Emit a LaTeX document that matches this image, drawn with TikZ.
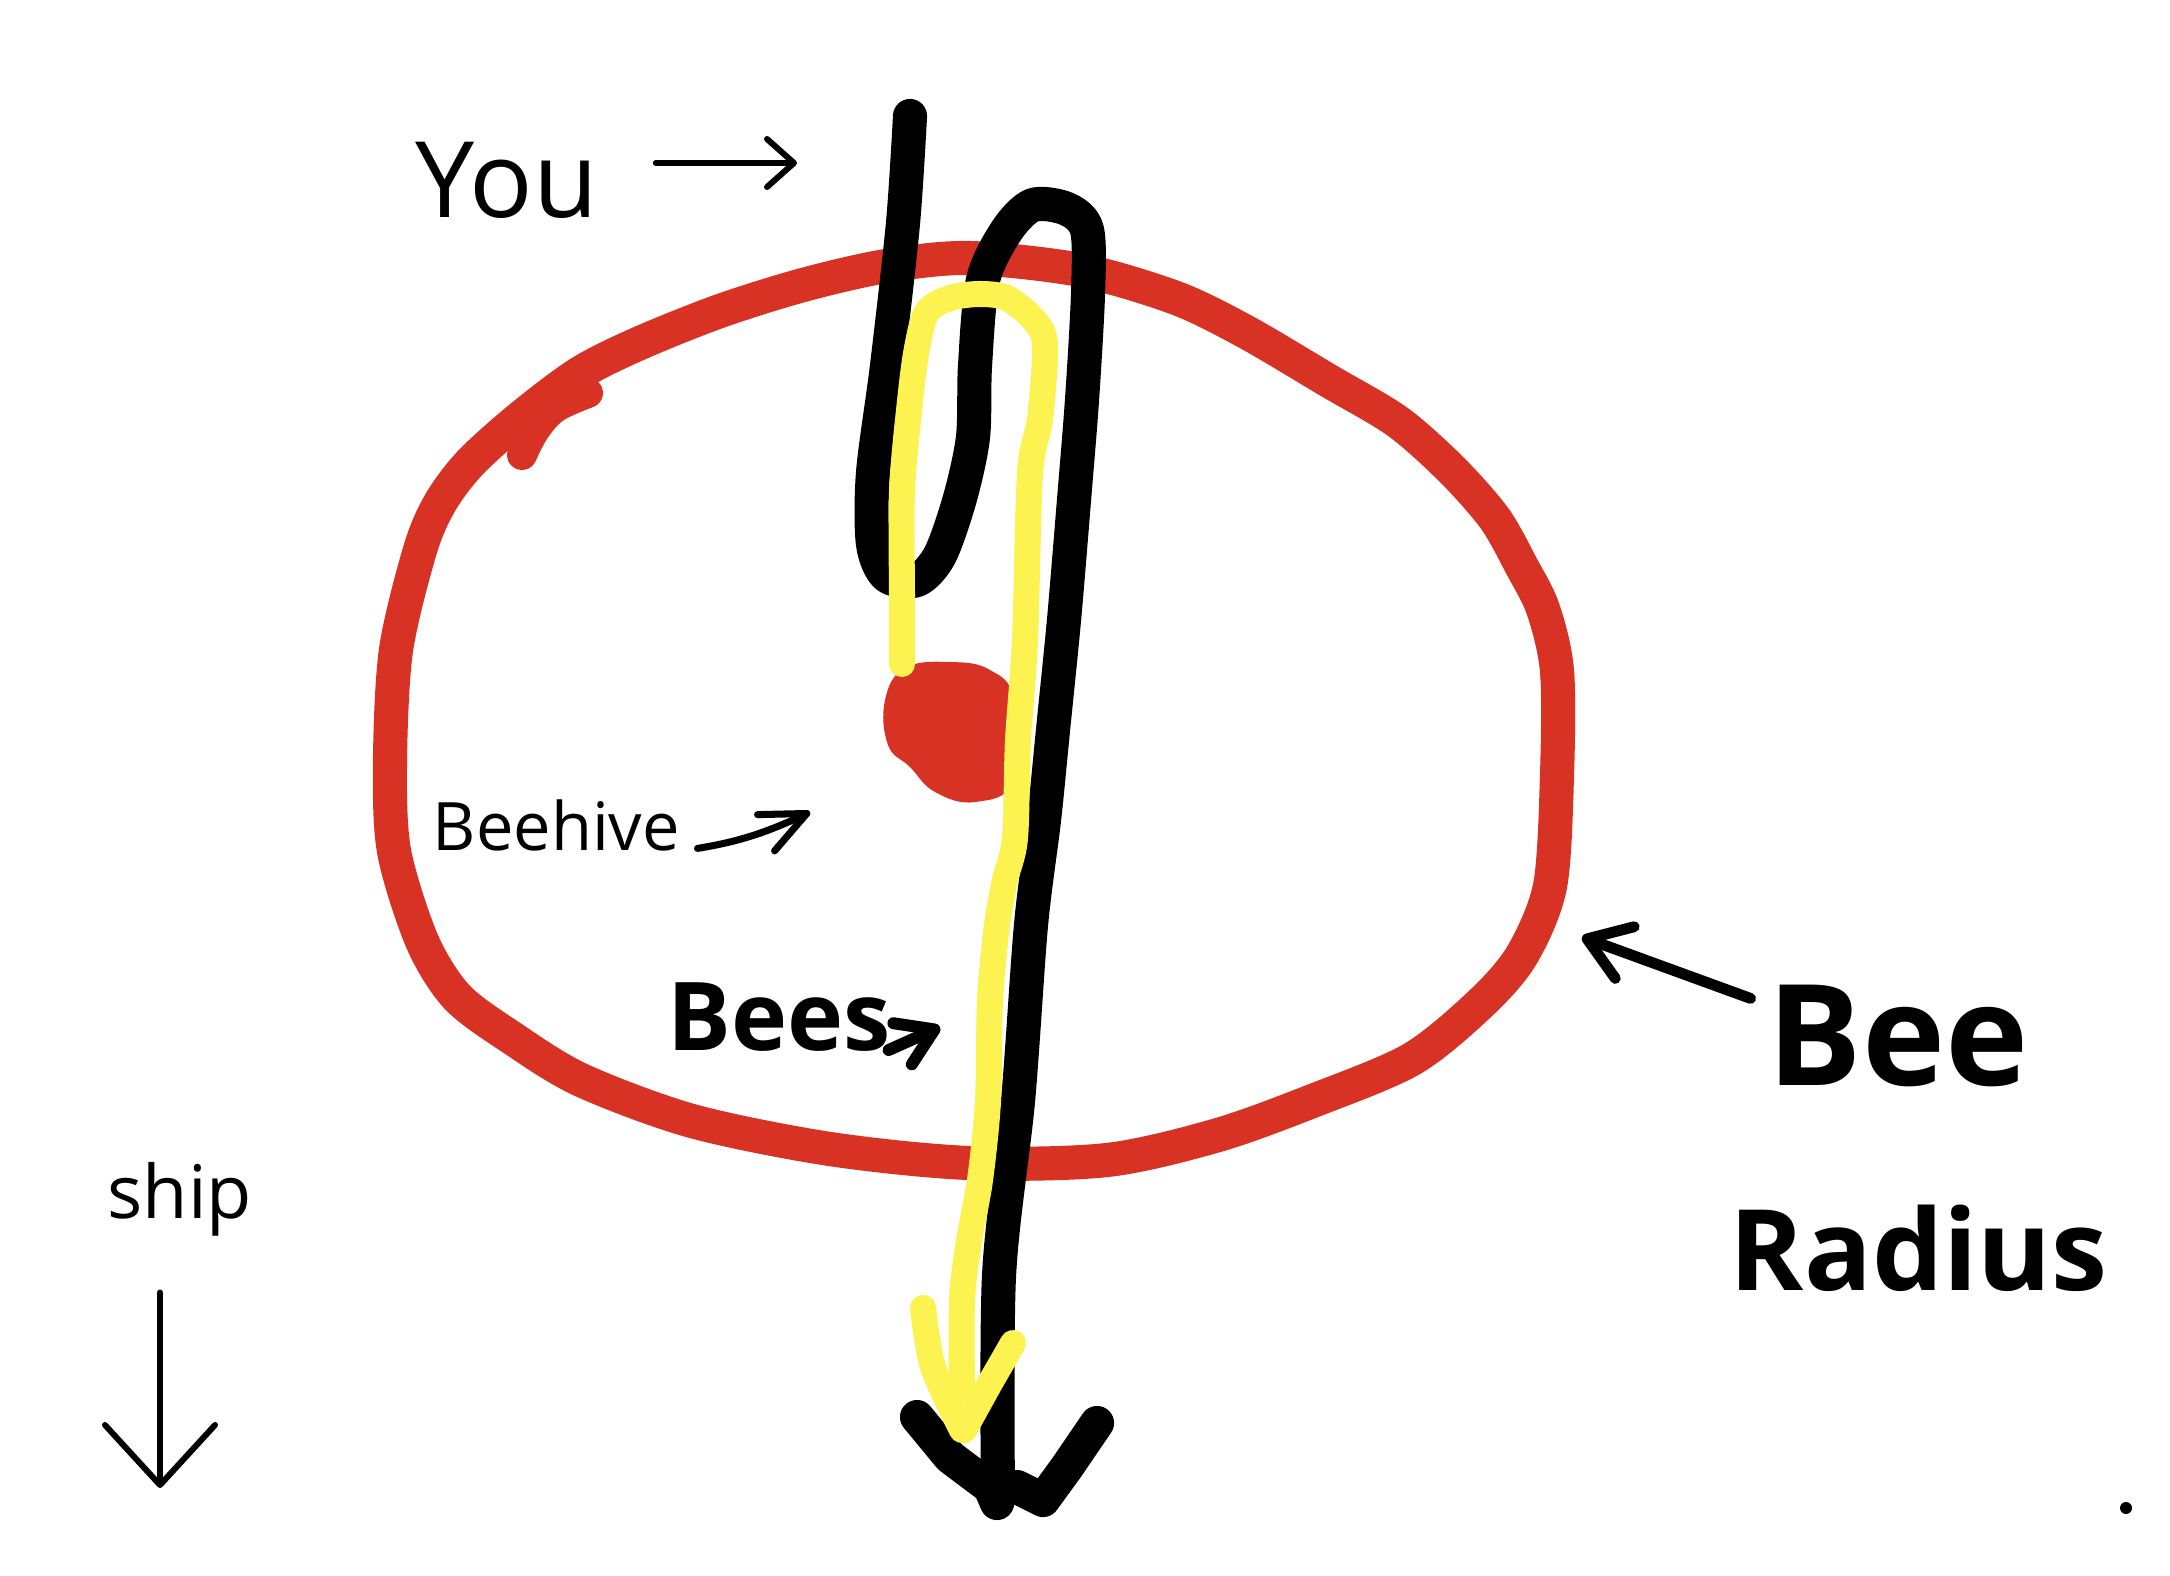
\documentclass[tikz,border=0pt]{standalone}
\usepackage{fontspec}
\setmainfont{Open Sans}
\usetikzlibrary{arrows.meta}
\definecolor{ringred}{RGB}{215,50,36}
\definecolor{penyellow}{RGB}{252,242,80}

\begin{document}
\begin{tikzpicture}[x=0.01cm,y=-0.01cm,
    ringpen/.style={draw=ringred,line width=9.7pt,line cap=round,line join=round},
    blackpen/.style={draw=black,line width=9.7pt,line cap=round,line join=round},
    yellowpen/.style={draw=penyellow,line width=7.4pt,line cap=round,line join=round},
    notetext/.style={anchor=base west,inner sep=2pt},
    notearrow/.style n args={2}{line cap=round,line join=round,
        -{Straight Barb[round,length=#1,width=#2]}},
  ]
    % page
    \fill[white] (0,0) rectangle (2170,1576);
    \useasboundingbox (0,0) rectangle (2170,1576);

    % bee radius ring
    \draw[ringpen] plot[smooth cycle,tension=0.5] coordinates {
        (580,373) (640,343) (720,311) (803,285) (886,266)
        (969,258) (1080,270) (1176,298) (1246,332) (1329,381) (1398,422)
        (1453,471) (1495,519) (1522,567) (1543,609) (1557,671) (1557,775)
        (1550,886) (1522,955) (1481,1003) (1412,1059) (1315,1100) (1218,1135)
        (1107,1160) (969,1163) (830,1149) (692,1121) (581,1080) (512,1038)
        (457,997) (422,941) (394,851) (390,761) (396,650) (420,550)
        (440,503) (470,463) (520,418)};
    % kink on the ring
    \draw[ringpen,line width=8.5pt] plot[smooth,tension=0.6]
        coordinates {(588,393) (555,408) (535,430) (522,455)};

    % beehive
    \fill[ringred] plot[smooth cycle,tension=0.7] coordinates {
        (885,700) (905,668) (950,662) (990,670) (1014,700) (1014,780)
        (975,802) (935,792) (910,767) (888,745)};

    % your path
    \draw[blackpen] plot[smooth,tension=0.5] coordinates {
        (910,116) (903,223) (887,366) (873,473) (873,544) (887,576)
        (917,580) (940,555) (960,498) (973,437) (975,366) (983,280)
        (1007,230) (1033,205) (1067,209) (1087,230) (1088,294) (1082,400)
        (1074,500) (1064,620) (1053,730) (1044,820) (1031,925) (1018,1101)
        (999,1276) (998,1500)};
    \draw[blackpen] (917,1417) -- (950,1457) -- (990,1487) -- (997,1503);
    \draw[blackpen] (1097,1423) -- (1067,1467) -- (1043,1500) -- (1017,1487);

    % path of the bees
    \draw[yellowpen] plot[smooth,tension=0.5] coordinates {
        (902,664) (902,600) (902,491) (910,401) (917,348) (927,312)
        (950,298) (980,294) (1007,298) (1033,319) (1045,344) (1040,419)
        (1030,473) (1025,640) (1018,740) (1015,838) (1005,880) (997,925)
        (990,1000) (988,1101) (980,1180) (969,1241) (962,1300) (962,1390)};
    \draw[yellowpen] plot[smooth,tension=0.5]
        coordinates {(923,1308) (933,1367) (962,1430)};
    \draw[yellowpen] (1013,1343) -- (990,1383) -- (964,1430);

    % labels
    \node[notetext,font=\fontsize{30}{36}\selectfont] (you) at (408,217) {You};
    \coordinate (youtip) at (797,163);
    \draw[notearrow={2.7mm}{4.8mm},line width=1.7pt,shorten <=0.5cm]
        (you.east |- youtip) -- (youtip);

    \node[notetext,font=\fontsize{19}{23}\selectfont] (beehive) at (425,850) {Beehive};
    \coordinate (hivetip) at (810,812);
    \draw[notearrow={4.5mm}{4mm},line width=2pt,shorten <=0.1cm]
        (beehive.base east) to[bend right=8] (hivetip);

    \node[notetext,font=\fontsize{27}{32}\selectfont\bfseries] (bees) at (660,1050) {Bees};
    \coordinate (beestip) at (940,1027);
    \draw[notearrow={3.5mm}{4.5mm},line width=3.4pt]
        ([xshift=-0.1cm]bees.base east) -- (beestip);

    \node[notetext,font=\fontsize{40}{48}\selectfont\bfseries] (bee) at (1760,1085) {Bee};
    \node[notetext,font=\fontsize{32}{38}\selectfont\bfseries] (radius) at (1722,1290) {Radius};
    \coordinate (radtip) at (1582,937);
    \draw[notearrow={4mm}{5.5mm},line width=3.1pt,shorten <=0.1cm]
        ([yshift=-0.25cm]bee.north west) -- (radtip);

    \node[notetext,font=\fontsize{21}{25}\selectfont] (ship) at (100,1218) {ship};
    \coordinate (shiptip) at (160,1488);
    \draw[notearrow={6mm}{11mm},line width=1.7pt,shorten <=0.49cm]
        (ship.south -| shiptip) -- (shiptip);

    % stray dot
    \fill (2126,1508) circle (0.6mm);
\end{tikzpicture}
\end{document}
